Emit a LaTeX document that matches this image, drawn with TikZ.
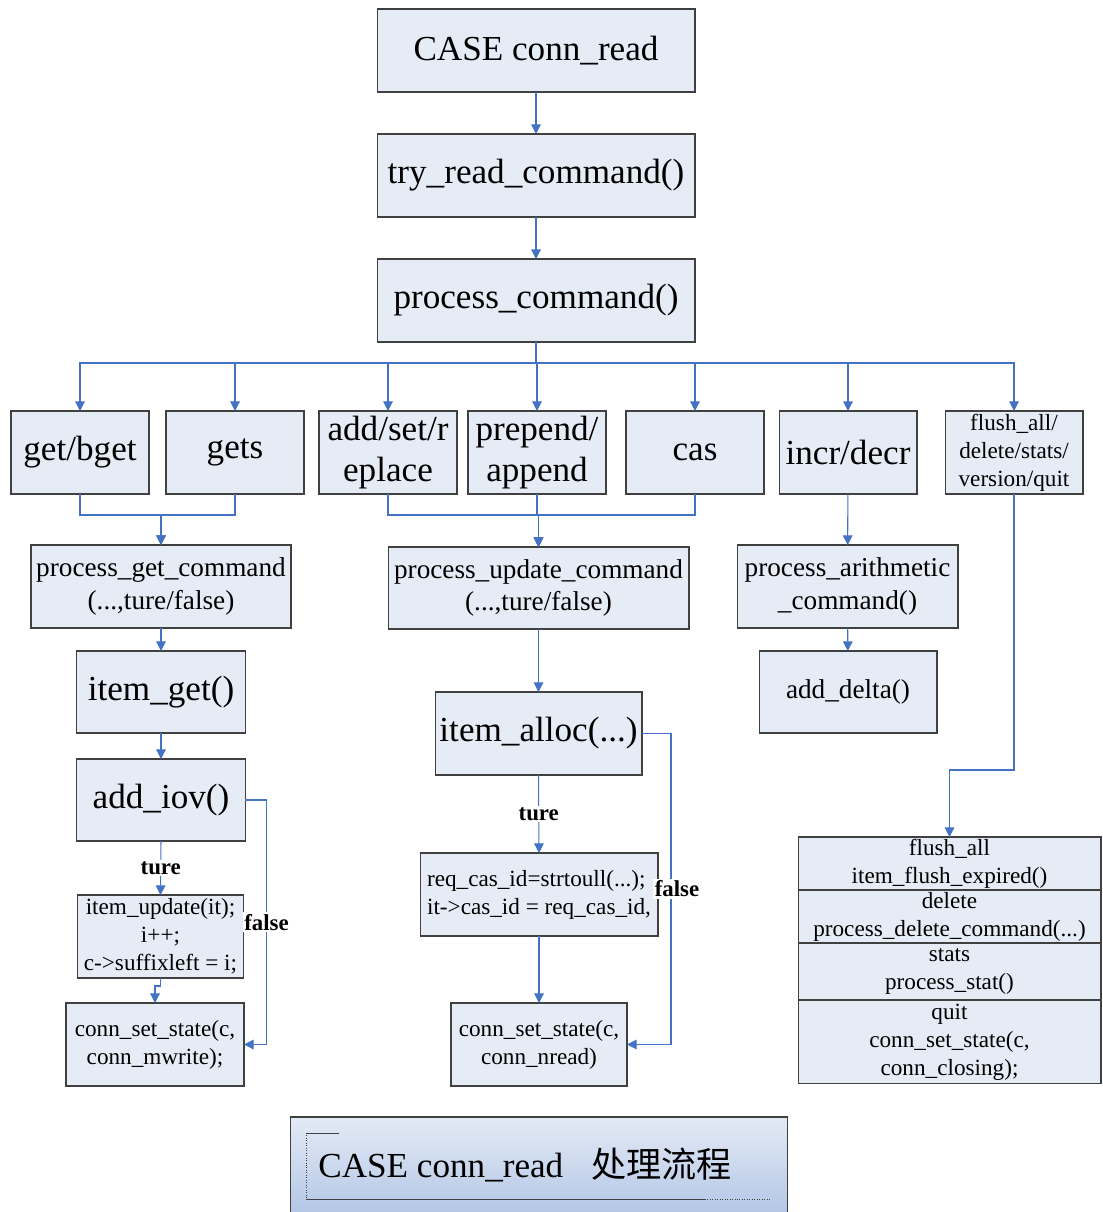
\documentclass[tikz,border=0pt]{standalone}
\usepackage{fontspec}
\setmainfont{Liberation Serif}
\newfontfamily\cjk{Noto Sans CJK SC}
\usetikzlibrary{arrows.meta,positioning}
\definecolor{boxfill}{RGB}{230,236,246}
\definecolor{boxline}{RGB}{64,64,64}
\definecolor{flowblue}{RGB}{68,114,196}
\definecolor{shadetop}{RGB}{228,234,245}
\definecolor{shadebot}{RGB}{172,194,228}
\begin{document}
\begin{tikzpicture}[x=0.02cm,y=-0.02cm,
  box/.style={draw=boxline,fill=boxfill,line width=0.6pt,align=center,inner sep=0pt,outer sep=0pt,minimum height=1.66cm},
  big/.style={font=\fontsize{20}{23}\selectfont},
  mid/.style={font=\fontsize{15.5}{18.7}\selectfont},
  small/.style={font=\fontsize{13.2}{16}\selectfont},
  arr/.style={flowblue,line width=0.6pt,-{Triangle[length=5.5pt,width=5.5pt]}},
  lbl/.style={fill=white,text=black,inner sep=1pt,font=\fontsize{13}{15}\selectfont\bfseries}]
\useasboundingbox (0,0) rectangle (1102,1212);

% main chain
\node[box,big,minimum width=6.36cm] (cr) at (536,50.5) {CASE conn\_read};
\node[box,big,minimum width=6.36cm] (trc) at (536,175.5) {try\_read\_command()};
\node[box,big,minimum width=6.36cm] (pc) at (536,300.5) {process\_command()};
\draw[arr] (cr) -- (trc);
\draw[arr] (trc) -- (pc);

% commands
\node[box,big,minimum width=2.76cm] (gb) at (80,452.5) {get/bget};
\node[box,big,minimum width=2.76cm] (gts) at (235,452.5) {gets};
\node[box,big,minimum width=2.76cm] (asr) at (388,452.5) {add/set/r\\eplace};
\node[box,big,minimum width=2.76cm] (pa) at (537,452.5) {prepend/\\append};
\node[box,big,minimum width=2.76cm] (cas) at (695,452.5) {cas};
\node[box,big,minimum width=2.76cm] (idc) at (848,452.5) {incr/decr};
\node[box,small,minimum width=2.76cm] (fl) at (1014,452.5) {flush\_all/\\delete/stats/\\version/quit};
\foreach \n in {gb,gts,asr,pa,cas,idc,fl} % bus from process_command
\draw[arr] (pc.south) -- ++(0,21) -| (\n.north);

% get branch
\node[box,mid,minimum width=5.2cm] (pgc) at (161,586.5) {process\_get\_command\\(...,ture/false)};
\node[box,big,minimum width=3.38cm,minimum height=1.64cm] (ig) at (161,692) {item\_get()};
\node[box,big,minimum width=3.38cm,minimum height=1.64cm] (aiov) at (161,800) {add\_iov()};
\node[box,small,minimum width=3.32cm] (iu) at (160.5,936.5) {item\_update(it);\\i++;\\c->suffixleft = i;};
\node[box,small,minimum width=3.56cm] (csm) at (155,1044.5) {conn\_set\_state(c,\\conn\_mwrite);};
\foreach \n in {gb,gts}
\draw[arr] (\n.south) -- ++(0,21) -| (pgc.north);
\draw[arr] (pgc) -- (ig);
\draw[arr] (ig) -- (aiov);
\draw[arr] (aiov.south) -- node[lbl] {ture} (iu.north);
\draw[arr] (iu.south) -- ++(0,8) -| (csm.north);
\draw[arr] (aiov.east) -- ++(21,0) |- node[lbl,pos=0.25] {false} (csm.east);

% update branch
\node[box,mid,minimum width=6.02cm,minimum height=1.64cm] (pu) at (538.5,588) {process\_update\_command\\(...,ture/false)};
\node[box,big,minimum width=4.14cm] (ia) at (538.5,733.5) {item\_alloc(...)};
\node[box,small,minimum width=4.76cm,align=left] (req) at (539,894.5) {req\_cas\_id=strtoull(...);\\it->cas\_id = req\_cas\_id,};
\node[box,small,minimum width=3.52cm] (cnr) at (539,1044.5) {conn\_set\_state(c,\\conn\_nread)};
\foreach \n in {asr,pa,cas}
\draw[arr] (\n.south) -- ++(0,21) -| (pu.north);
\draw[arr] (pu) -- (ia);
\draw[arr] (ia.south) -- node[lbl] {ture} (req.north);
\draw[arr] (req) -- (cnr);
\draw[arr] (ia.east) -- ++(29,0) |- node[lbl,pos=0.25,xshift=0.12cm] {false} (cnr.east);

% arithmetic branch
\node[box,mid,minimum width=4.42cm] (pac) at (847.5,586.5) {process\_arithmetic\\\_command()};
\node[box,mid,minimum width=3.56cm,minimum height=1.64cm] (ad) at (848,692) {add\_delta()};
\draw[arr] (idc) -- (pac);
\draw[arr] (pac) -- (ad);

% flush_all/delete/stats/quit
\node[box,small,minimum width=6.06cm,minimum height=1.06cm] (st1) at (949.5,863.5) {flush\_all\\item\_flush\_expired()};
\node[box,small,minimum width=6.06cm,minimum height=1.06cm,below=0pt of st1] (st2) {delete\\process\_delete\_command(...)};
\node[box,small,minimum width=6.06cm,minimum height=1.14cm,below=0pt of st2] (st3) {stats\\process\_stat()};
\node[box,small,minimum width=6.06cm,minimum height=1.68cm,below=0pt of st3] (st4) {quit\\conn\_set\_state(c,\\conn\_closing);};
\draw[arr] (fl.south) -- ++(0,276) -| (st1.north);

% title
\node[draw=boxline,line width=0.6pt,top color=shadetop,bottom color=shadebot,minimum width=9.96cm,minimum height=2.2cm] (ttlbox) at (539,1172) {};
\draw[black!75,line width=0.4pt] (339,1133) -- (306,1133);
\draw[black!75,line width=0.4pt,densely dotted] (306,1133) -- (306,1199);
\draw[black!75,line width=0.4pt] (306,1199) -- (705,1199);
\draw[black!75,line width=0.4pt,densely dotted] (705,1199) -- (771,1199);
\node[anchor=base west,inner sep=0pt,big] (ttl) at (318,1177) {CASE conn\_read\hspace{0.8em}{\cjk 处理流程}};
\end{tikzpicture}
\end{document}
